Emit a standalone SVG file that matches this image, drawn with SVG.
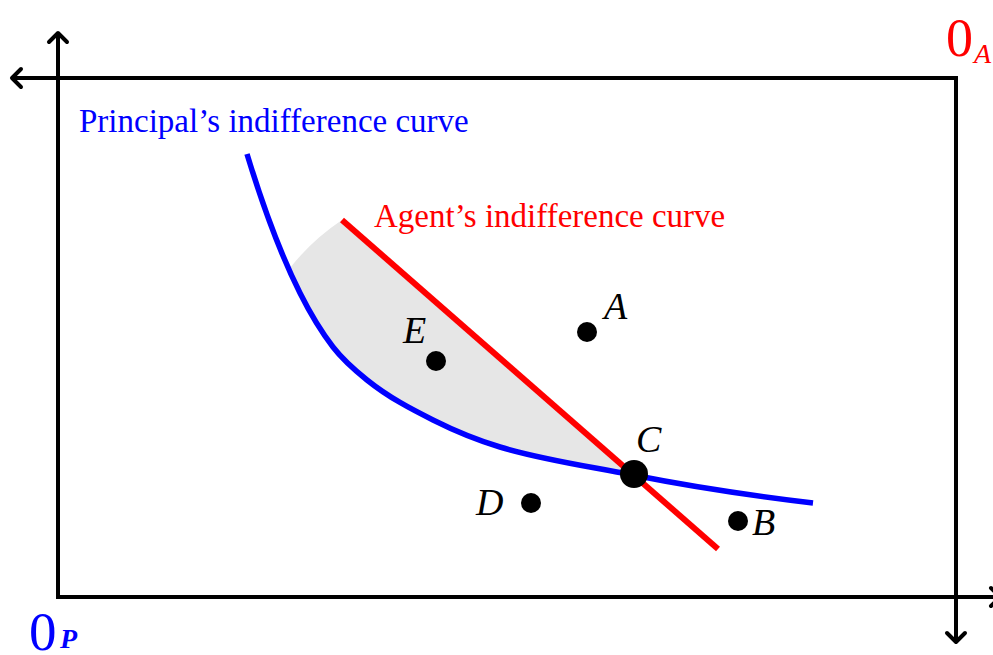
<svg xmlns="http://www.w3.org/2000/svg" width="993" height="655" viewBox="0 0 993 655">
<style>
.ax{fill:none;stroke:#000;stroke-width:4;stroke-linecap:butt}
.arr{fill:none;stroke:#000;stroke-width:4;stroke-linecap:round;stroke-linejoin:round}
.lbl{font-family:"Liberation Serif","Times New Roman",serif;font-style:italic;font-size:38px;fill:#000}
.cap{font-family:"Liberation Serif","Times New Roman",serif;font-size:33px}
.dot{fill:#000}
</style>
<defs>
<path id="chev" d="M-9,9 Q-3,3 0,0 Q3,3 9,9" class="arr"/>
</defs>
<rect width="993" height="655" fill="#fff"/>
<g id="axes">
<path class="ax" d="M58,34 V597 H1000 M12,78 H956 V641"/>
<use href="#chev" transform="translate(58,33)"/>
<use href="#chev" transform="translate(12,78) rotate(-90)"/>
<use href="#chev" transform="translate(956,642) rotate(180)"/>
<use href="#chev" transform="translate(1000,597) rotate(90)"/>
</g>
<g id="region">
<path fill="#e6e6e6" d="M290,268 L300,293 C311,315 322,332.7 333,347 C344.3,361.7 355.7,370.9 367,380 C389,397.6 411,409 433,420 C455.3,431.2 477.7,440.3 500,447 C544.3,460.3 588.7,466.1 633,475 L342,220 Q312,240 290,268 Z"/>
</g>
<g id="connectors">
<path id="principal-curve" fill="none" stroke="#0000ff" stroke-width="5.5" d="M247,154 C264.67,212.3 282.33,257.7 300,293 C311,315 322,332.7 333,347 C344.3,361.7 355.7,370.9 367,380 C389,397.6 411,409 433,420 C455.3,431.2 477.7,440.3 500,447 C544.3,460.3 588.7,466.1 633,475 C693,487 753,495.8 813,503"/>
<line id="agent-curve" x1="342" y1="220" x2="718" y2="549" stroke="#ff0000" stroke-width="6"/>
</g>
<g id="label-principal"><text class="cap" x="79" y="132" fill="#0000ff">Principal’s indifference curve</text></g>
<g id="label-agent"><text class="cap" x="374" y="227" fill="#ff0000">Agent’s indifference curve</text></g>
<g id="origin-A" font-family="Liberation Serif, Times New Roman, serif" fill="#ff0000"><text x="946" y="56" font-size="54">0</text><text x="974" y="63" font-size="28" font-style="italic">A</text></g>
<g id="origin-P" font-family="Liberation Serif, Times New Roman, serif" fill="#0000ff"><text x="29" y="650" font-size="55">0</text><text x="60" y="648" font-size="28" font-style="italic" font-weight="bold">P</text></g>
<g id="point-A"><circle class="dot" cx="587" cy="332" r="10"/><text class="lbl" x="604" y="319">A</text></g>
<g id="point-E"><circle class="dot" cx="436" cy="361" r="10"/><text class="lbl" x="403" y="343">E</text></g>
<g id="point-C"><circle class="dot" cx="634" cy="474" r="14"/><text class="lbl" x="636" y="452" font-size="46">C</text></g>
<g id="point-D"><circle class="dot" cx="531" cy="503" r="10"/><text class="lbl" x="476" y="515">D</text></g>
<g id="point-B"><circle class="dot" cx="738" cy="521" r="10"/><text class="lbl" x="752" y="535">B</text></g>
</svg>
